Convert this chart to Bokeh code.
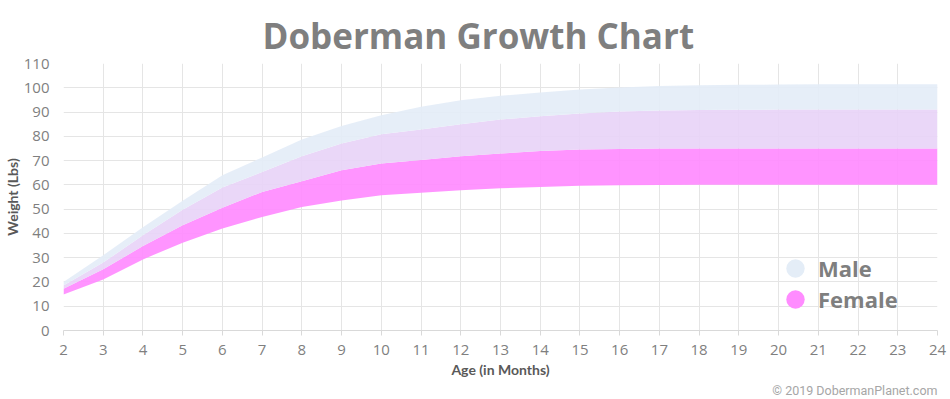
from bokeh.plotting import figure
from bokeh.models import FixedTicker, Legend, LegendItem, Title
from bokeh.embed import file_html
from bokeh.resources import INLINE

# ---- data ----
months = list(range(2, 25))
male_hi = [20, 31, 42.5, 53.5, 64, 71.3, 78.7, 84.2, 88.7, 92.2, 94.9, 96.7, 98.1,
           99.3, 100.1, 100.7, 101, 101.2, 101.3, 101.4, 101.5, 101.5, 101.5]
female_hi = [18.5, 28, 39.2, 49.7, 58.9, 65.3, 71.8, 77, 80.9, 82.8, 85, 86.9, 88.3,
             89.4, 90.2, 90.6, 90.8, 90.9, 91, 91, 91, 91, 91]
male_lo = [17.2, 25.2, 34.8, 43.4, 50.6, 57.1, 61.5, 66, 68.8, 70.2, 71.8, 72.9, 74,
           74.6, 74.8, 75, 75, 75, 75, 75, 75, 75, 75]
female_lo = [14.8, 21, 29.3, 36.2, 42, 46.8, 50.9, 53.6, 55.7, 56.7, 57.8, 58.6, 59.1,
             59.6, 59.8, 59.9, 60, 60, 60, 60, 60, 60, 60]
y_ticks = list(range(0, 111, 10))
series_names = ["Male", "Female"]

title_text = "Doberman Growth Chart"
x_title = "Age (in Months)"
y_title = "Weight (Lbs)"
credit = "\u00a9 2019 DobermanPlanet.com"

# ---- styles ----
C_PINK = "#ff8cff"
C_LAV = "#e8d4f7"
C_BLUE = "#e4edf7"
GRAY = "#7f7f7f"
DARK = "#595959"
GRID = "#e5e5e5"

p = figure(width=948, height=399, x_range=(2, 24), y_range=(0, 110),
           output_backend="svg", toolbar_location=None,
           min_border_left=63, min_border_right=11, min_border_top=63,
           min_border_bottom=69)
p.outline_line_color = None
p.background_fill_color = "white"

# bands: female-only, overlap, male-only
p.varea(x=months, y1=female_lo, y2=male_lo, fill_color=C_PINK, fill_alpha=0.93)
p.varea(x=months, y1=male_lo, y2=female_hi, fill_color=C_LAV, fill_alpha=0.93)
p.varea(x=months, y1=female_hi, y2=male_hi, fill_color=C_BLUE, fill_alpha=0.93)

# grid
p.xgrid.ticker = FixedTicker(ticks=months)
p.ygrid.ticker = FixedTicker(ticks=y_ticks)
p.xgrid.grid_line_color = GRID
p.ygrid.grid_line_color = GRID

# x axis
p.xaxis.ticker = FixedTicker(ticks=months)
p.xaxis.axis_line_color = "#d9d9d9"
p.xaxis.major_tick_line_color = "#d9d9d9"
p.xaxis.major_tick_out = 5
p.xaxis.major_tick_in = 0
p.xaxis.minor_tick_line_color = None
p.xaxis.major_label_text_font = "Open Sans"
p.xaxis.major_label_text_font_size = "15px"
p.xaxis.major_label_text_color = GRAY
p.xaxis.major_label_standoff = 9
p.xaxis.axis_label = x_title
p.xaxis.axis_label_text_font = "Lato"
p.xaxis.axis_label_text_font_style = "bold"
p.xaxis.axis_label_text_font_size = "14px"
p.xaxis.axis_label_text_color = DARK
p.xaxis.axis_label_standoff = 3

# y axis
p.yaxis.ticker = FixedTicker(ticks=y_ticks)
p.yaxis.axis_line_color = None
p.yaxis.major_tick_line_color = None
p.yaxis.minor_tick_line_color = None
p.yaxis.major_tick_out = 0
p.yaxis.major_tick_in = 0
p.yaxis.major_label_text_font = "Open Sans"
p.yaxis.major_label_text_font_size = "15px"
p.yaxis.major_label_text_color = GRAY
p.yaxis.major_label_standoff = 14
p.yaxis.axis_label = y_title
p.yaxis.axis_label_text_font = "Lato"
p.yaxis.axis_label_text_font_style = "bold"
p.yaxis.axis_label_text_font_size = "14px"
p.yaxis.axis_label_text_color = DARK
p.yaxis.axis_label_standoff = 0

# title
p.title = Title(text=title_text, align="left", offset=199, standoff=6,
                vertical_align="top",
                text_font="Open Sans", text_font_style="bold",
                text_font_size="35px", text_color=GRAY)

# credit line under the x axis
p.add_layout(Title(text=credit, align="right", standoff=0,
                   text_font="Roboto", text_font_style="normal",
                   text_font_size="12.5px", text_color="#a6a6a6"), "below")

# legend (two single-item legends, positioned in frame pixels)
nan = float("nan")
r_m = p.scatter(x=[nan], y=[nan], marker="circle", fill_color=C_BLUE, line_color=None)
r_f = p.scatter(x=[nan], y=[nan], marker="circle", fill_color=C_PINK, line_color=None)
common = dict(orientation="vertical", glyph_width=46, glyph_height=50,
              label_standoff=0, padding=0, margin=0,
              label_text_font="Open Sans", label_text_font_style="bold",
              label_text_font_size="22px", label_text_color=GRAY,
              background_fill_alpha=0, border_line_color=None)
leg_m = Legend(items=[LegendItem(label=series_names[0], renderers=[r_m])],
               location=(709, 37), **common)
leg_f = Legend(items=[LegendItem(label=series_names[1], renderers=[r_f])],
               location=(709, 6), **common)
p.add_layout(leg_m, "center")
p.add_layout(leg_f, "center")

open("out.html", "w").write(file_html(p, INLINE))
